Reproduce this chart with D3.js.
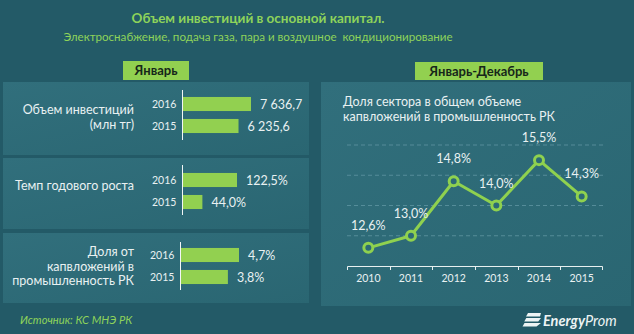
<!DOCTYPE html>
<html>
<head>
<meta charset="utf-8">
<script src="https://cdn.jsdelivr.net/npm/d3@7"></script>
<style>
  html, body { margin: 0; padding: 0; background: #235a67; }
  svg { display: block; }
  text { font-family: Lato, "Noto Sans", sans-serif; white-space: pre; }
</style>
</head>
<body>
<svg id="chart" width="634" height="334"></svg>
<script>
// ---- data ----
const titleText = "Объем инвестиций в основной капитал.";
const subtitleText = "Электроснабжение, подача газа, пара и воздушное  кондиционирование";
const leftHeader = "Январь";
const rightHeader = "Январь-Декабрь";

const janYears = ["2016", "2015"];
const investLabel = ["Объем инвестиций", "(млн тг)"];
const investValues = [7636.7, 6235.6];
const growthLabel = ["Темп годового роста"];
const growthValues = [122.5, 44.0];
const shareLabel = ["Доля от", "капвложений в", "промышленность РК"];
const shareValues = [4.7, 3.8];

const lineTitle = ["Доля сектора в общем объеме", "капвложений в промышленность РК"];
const lineYears = ["2010", "2011", "2012", "2013", "2014", "2015"];
const lineValues = [12.6, 13.0, 14.8, 14.0, 15.5, 14.3];
const gridTicks = [13, 14, 15, 16];

const sourceText = "Источник: КС МНЭ РК";

// ---- styling ----
const GREEN = "#92d050";
const LINE_GREEN = "#8fd14f";
const TEXT = "#e9f1f2";
const BG = "#235a67";

const ru = d3.formatLocale({ decimal: ",", thousands: "\u00a0", grouping: [3], currency: ["", ""] });
const fmtNum = ru.format(",.1f");
const fmtPct = v => ru.format(".1f")(v) + "%";

const svg = d3.select("#chart");
const defs = svg.append("defs");
const grad = defs.append("linearGradient").attr("id", "panelGrad")
  .attr("x1", 0).attr("y1", 0).attr("x2", 1).attr("y2", 1);
grad.append("stop").attr("offset", "0%").attr("stop-color", "#316f7c");
grad.append("stop").attr("offset", "100%").attr("stop-color", "#2a6672");

svg.append("rect").attr("width", 634).attr("height", 334).attr("fill", BG);

// ---- title ----
svg.append("text").attr("x", 258).attr("y", 23).attr("text-anchor", "middle")
  .attr("font-size", 13.5).attr("font-weight", "bold").attr("fill", "#8ed35a").text(titleText);
svg.append("text").attr("x", 258).attr("y", 41).attr("text-anchor", "middle")
  .attr("font-size", 11.6).attr("fill", "#8ed35a").text(subtitleText);

// ---- panel backgrounds ----
const leftPanels = [[3, 82, 306, 73], [3, 158, 306, 71], [3, 233, 306, 70]];
leftPanels.forEach(p => svg.append("rect").attr("x", p[0]).attr("y", p[1])
  .attr("width", p[2]).attr("height", p[3]).attr("fill", "url(#panelGrad)"));
svg.append("rect").attr("x", 321).attr("y", 82).attr("width", 310).attr("height", 224)
  .attr("fill", "url(#panelGrad)");

// header tabs
function header(x, y, w, h, label) {
  svg.append("rect").attr("x", x).attr("y", y).attr("width", w).attr("height", h).attr("fill", GREEN);
  svg.append("text").attr("x", x + w / 2).attr("y", y + h / 2 + 4.5).attr("text-anchor", "middle")
    .attr("font-size", 13).attr("font-weight", "bold").attr("fill", "#16261a").text(label);
}
header(123, 61, 66, 19, leftHeader);
header(415, 62, 128, 18, rightHeader);

// ---- January bar groups ----
const groups = [
  { label: investLabel, values: investValues, fmt: fmtNum, x0: 183, maxW: 68, band: [93, 137], axis: [90, 140], labelY: 114, yearX: 152 },
  { label: growthLabel, values: growthValues, fmt: fmtPct, x0: 183, maxW: 54, band: [169, 213], axis: [165, 215], labelY: 190, yearX: 152 },
  { label: shareLabel, values: shareValues, fmt: fmtPct, x0: 181, maxW: 58, band: [244, 288], axis: [242, 290], labelY: 256, yearX: 150 }
];

groups.forEach(gdef => {
  const g = svg.append("g");
  const y = d3.scaleBand().domain(janYears).range(gdef.band).paddingInner(0.36).paddingOuter(0.18);
  const x = d3.scaleLinear().domain([0, d3.max(gdef.values)]).range([gdef.x0, gdef.x0 + gdef.maxW]);

  g.selectAll("rect.bar").data(janYears).join("rect").attr("class", "bar")
    .attr("x", x(0)).attr("y", d => y(d))
    .attr("width", (d, i) => x(gdef.values[i]) - x(0))
    .attr("height", y.bandwidth()).attr("fill", GREEN);

  g.append("line").attr("x1", x(0) - 0.5).attr("x2", x(0) - 0.5)
    .attr("y1", gdef.axis[0]).attr("y2", gdef.axis[1]).attr("stroke", "#f2f6f6").attr("stroke-width", 1);

  g.selectAll("text.year").data(janYears).join("text").attr("class", "year")
    .attr("x", gdef.yearX).attr("y", d => y(d) + y.bandwidth() / 2 + 4)
    .attr("font-size", 10.5).attr("fill", TEXT).text(d => d);

  g.selectAll("text.val").data(janYears).join("text").attr("class", "val")
    .attr("x", (d, i) => x(gdef.values[i]) + 9).attr("y", d => y(d) + y.bandwidth() / 2 + 4.5)
    .attr("font-size", 12.5).attr("fill", TEXT).text((d, i) => gdef.fmt(gdef.values[i]));

  g.selectAll("text.cat").data(gdef.label).join("text").attr("class", "cat")
    .attr("x", 134).attr("y", (d, i) => gdef.labelY + i * 14.5).attr("text-anchor", "end")
    .attr("font-size", 12.5).attr("fill", TEXT).text(d => d);
});

// ---- line chart ----
svg.selectAll("text.ltitle").data(lineTitle).join("text").attr("class", "ltitle")
  .attr("x", 343).attr("y", (d, i) => 106 + i * 15).attr("font-size", 12.5).attr("fill", TEXT).text(d => d);

const xb = d3.scaleBand().domain(lineYears).range([347, 603]);
const yl = d3.scaleLinear().domain([12, 16]).range([266, 145]);

const lg = svg.append("g");
lg.selectAll("line.grid").data(gridTicks).join("line").attr("class", "grid")
  .attr("x1", 347).attr("x2", 603).attr("y1", d => yl(d)).attr("y2", d => yl(d))
  .attr("stroke", "#5f96a2").attr("stroke-width", 0.8).attr("stroke-dasharray", "4,3");

const xAxis = lg.append("g").attr("transform", "translate(0,266)")
  .call(d3.axisBottom(xb).tickSize(0).tickPadding(9));
xAxis.select(".domain").attr("stroke", "#e8f0f0").attr("d", "M347.5,4V0.5H602.5V4");
xAxis.selectAll("text").attr("font-size", 10.5).attr("fill", TEXT)
  .attr("font-family", 'Lato, "Noto Sans", sans-serif');
// tick marks between categories
lg.selectAll("line.tk").data(lineYears.slice(1)).join("line").attr("class", "tk")
  .attr("x1", d => Math.round(xb(d)) + 0.5).attr("x2", d => Math.round(xb(d)) + 0.5)
  .attr("y1", 266).attr("y2", 270).attr("stroke", "#e8f0f0");

const cx = d => xb(d) + xb.bandwidth() / 2;
const pts = lineYears.map((d, i) => [cx(d), yl(lineValues[i])]);
lg.append("path").attr("d", d3.line()(pts)).attr("fill", "none")
  .attr("stroke", LINE_GREEN).attr("stroke-width", 3).attr("stroke-linejoin", "round");
lg.selectAll("circle.pt").data(lineYears).join("circle").attr("class", "pt")
  .attr("cx", d => cx(d)).attr("cy", (d, i) => yl(lineValues[i])).attr("r", 4.5)
  .attr("fill", "#2c6a76").attr("stroke", LINE_GREEN).attr("stroke-width", 3);
lg.selectAll("text.lbl").data(lineYears).join("text").attr("class", "lbl")
  .attr("x", d => cx(d)).attr("y", (d, i) => yl(lineValues[i]) - 18).attr("text-anchor", "middle")
  .attr("font-size", 12.5).attr("fill", TEXT).text((d, i) => fmtPct(lineValues[i]));

// ---- footer ----
svg.append("text").attr("x", 20).attr("y", 324).attr("font-size", 11.2).attr("font-style", "italic")
  .attr("fill", "#8ed35a").text(sourceText);

const logo = svg.append("g").attr("transform", "translate(524,313)");
[0, 5, 10].forEach(dy => logo.append("path")
  .attr("d", `M${4 - dy * 0.35},${dy} L17,${dy} L${16 - dy * 0.35},${dy + 3.5} L${2 - dy * 0.35},${dy + 3.5} Z`)
  .attr("fill", "#eef4f4"));
const lt = logo.append("text").attr("x", 19).attr("y", 13).attr("font-size", 14.5)
  .attr("font-style", "italic").attr("fill", "#eef4f4");
lt.append("tspan").attr("font-weight", "bold").text("Energy");
lt.append("tspan").text("Prom");
</script>
</body>
</html>
